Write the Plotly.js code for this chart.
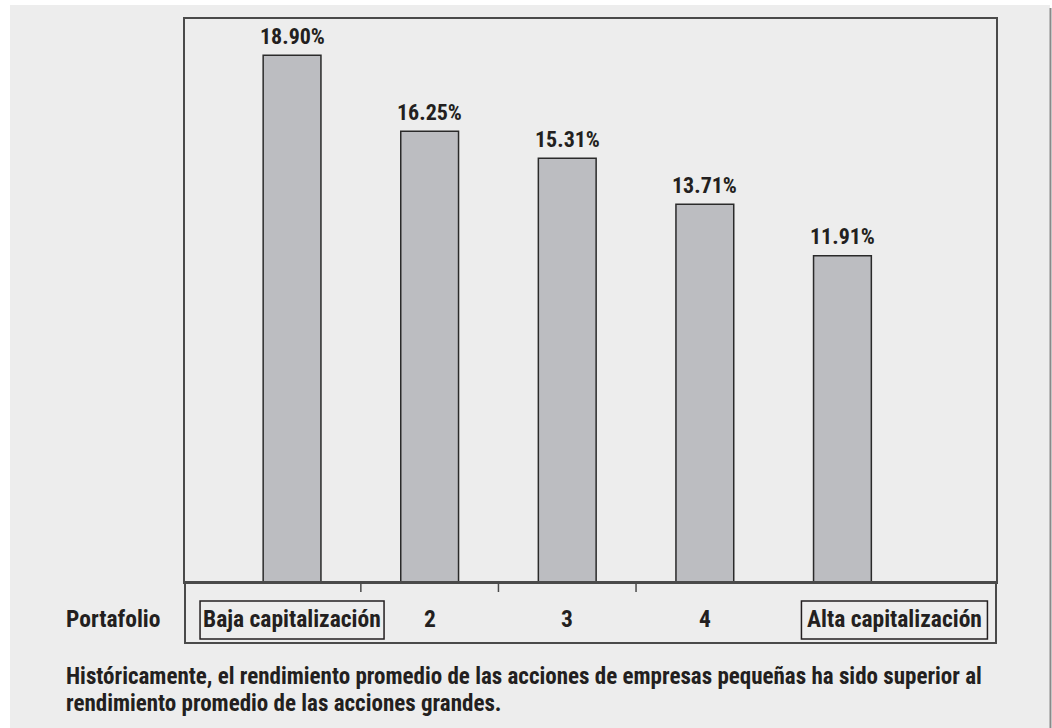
<!DOCTYPE html>
<html>
<head>
<meta charset="utf-8">
<script src="https://cdn.plot.ly/plotly-3.0.1.min.js"></script>
<style>html,body{margin:0;padding:0;background:#fff;}#chart{width:1052px;height:728px;}</style>
</head>
<body>
<div id="chart"></div>
<script>
const categories = ['Baja capitalización', '2', '3', '4', 'Alta capitalización'];
const values = [18.90, 16.25, 15.31, 13.71, 11.91];
const valueLabels = ['18.90%', '16.25%', '15.31%', '13.71%', '11.91%'];
const axisLabel = 'Portafolio';
const captionLines = [
  'Históricamente, el rendimiento promedio de las acciones de empresas pequeñas ha sido superior al',
  'rendimiento promedio de las acciones grandes.'
];
const boxedCategories = [0, 4];

const FONT = '"Roboto Condensed", "Liberation Sans Narrow", "DejaVu Sans Condensed", sans-serif';
const INK = '#231f20';
const FRAME = '#4a4a4a';
const BG = '#ededed';

const W = 1052, H = 728;
const M = {l: 185, r: 56, t: 19, b: 146};
const plotW = W - M.l - M.r, plotH = H - M.t - M.b;
const px2x = px => (px - M.l) / plotW;
const px2y = py => (H - M.b - py) / plotH;

const trace = {
  type: 'bar',
  x: categories.map((c, i) => i),
  y: values,
  width: 0.42,
  marker: {color: '#bcbdc1', line: {color: '#2a2a2a', width: 1.5}},
  cliponaxis: true,
  hoverinfo: 'skip'
};

const shapes = [];
shapes.push({type: 'rect', xref: 'paper', yref: 'paper', layer: 'below',
  x0: px2x(0), x1: px2x(W), y0: px2y(0), y1: px2y(5), fillcolor: '#ffffff', line: {width: 0}});
shapes.push({type: 'rect', xref: 'paper', yref: 'paper', layer: 'below',
  x0: px2x(0), x1: px2x(10), y0: px2y(0), y1: px2y(H), fillcolor: '#ffffff', line: {width: 0}});
shapes.push({type: 'rect', xref: 'paper', yref: 'paper', layer: 'below',
  x0: px2x(1050), x1: px2x(W), y0: px2y(5), y1: px2y(H), fillcolor: '#ffffff', line: {width: 0}});
shapes.push({type: 'line', xref: 'paper', yref: 'paper',
  x0: px2x(1050.5), x1: px2x(1050.5), y0: px2y(8), y1: px2y(H), line: {color: '#8a8a8a', width: 2}});
// frame extension below the baseline
shapes.push({type: 'rect', xref: 'paper', x0: 0, x1: 1, yref: 'paper', ysizemode: 'pixel', yanchor: 0,
  y0: 0, y1: -61, line: {color: FRAME, width: 2}});
// ticks between categories
for (let i = 0; i < categories.length - 2; i++) {
  shapes.push({type: 'line', xref: 'x', x0: i + 0.5, x1: i + 0.5, yref: 'paper', ysizemode: 'pixel',
    yanchor: 0, y0: 0, y1: -10, line: {color: FRAME, width: 1.5}});
}
// boxes round the end labels
const labelShift = [0, 0, 0, 0, 52];
const boxHalf = [92, 0, 0, 0, 93];
boxedCategories.forEach(i => {
  shapes.push({type: 'rect', xref: 'x', xsizemode: 'pixel', xanchor: i,
    x0: labelShift[i] - boxHalf[i], x1: labelShift[i] + boxHalf[i],
    yref: 'paper', ysizemode: 'pixel', yanchor: 0, y0: -19, y1: -57,
    line: {color: INK, width: 1.5}});
});

const annotations = [];
// value labels above the bars
values.forEach((v, i) => {
  annotations.push({x: i, xref: 'x', y: v, yref: 'y', yanchor: 'middle', yshift: 19,
    text: valueLabels[i], showarrow: false,
    font: {family: FONT, size: 22, color: INK, weight: 'bold'}});
});
// category labels
categories.forEach((c, i) => {
  annotations.push({x: i, xref: 'x', y: 0, yref: 'paper', yanchor: 'middle', yshift: -37,
    xshift: labelShift[i], text: c, showarrow: false,
    font: {family: FONT, size: 23.5, color: INK, weight: 'bold'}});
});
annotations.push({x: 0, xref: 'paper', xanchor: 'left', xshift: -121, y: 0, yref: 'paper',
  yanchor: 'middle', yshift: -37, text: axisLabel, showarrow: false,
  font: {family: FONT, size: 23.5, color: INK, weight: 'bold'}});
captionLines.forEach((t, k) => {
  annotations.push({x: 0, xref: 'paper', xanchor: 'left', xshift: -121, y: 0, yref: 'paper',
    yanchor: 'middle', yshift: -94 - 27 * k, text: t, showarrow: false, align: 'left',
    font: {family: FONT, size: 23, color: INK, weight: 'bold'}});
});

const layout = {
  width: W, height: H,
  margin: M,
  paper_bgcolor: BG, plot_bgcolor: BG,
  showlegend: false,
  font: {family: FONT, color: INK},
  xaxis: {range: [-0.778, 5.116], showticklabels: false, ticks: '',
    showgrid: false, zeroline: false, showline: true, mirror: true, linecolor: FRAME, linewidth: 2,
    fixedrange: true},
  yaxis: {range: [0.53, 0.53 + plotH / 28.67], showticklabels: false, ticks: '', showgrid: false,
    zeroline: false, showline: true, mirror: true, linecolor: FRAME, linewidth: 2, fixedrange: true},
  shapes: shapes,
  annotations: annotations
};

Plotly.newPlot('chart', [trace], layout, {displayModeBar: false, staticPlot: true});
</script>
</body>
</html>
